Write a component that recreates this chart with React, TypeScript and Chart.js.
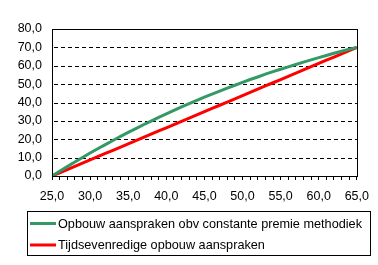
import React, { useEffect, useRef } from "react";
import { Chart, registerables } from "chart.js";

Chart.register(...registerables);

const ages: number[] = [
  25, 26, 27, 28, 29, 30, 31, 32, 33, 34, 35, 36, 37, 38, 39, 40, 41, 42, 43, 44, 45,
  46, 47, 48, 49, 50, 51, 52, 53, 54, 55, 56, 57, 58, 59, 60, 61, 62, 63, 64, 65,
];

const constantePremie: number[] = [
  0, 2.6, 5.1, 7.6, 10.1, 12.5, 14.8, 17.1, 19.3, 21.6, 23.7, 25.8, 27.9, 29.9, 31.9, 33.8,
  35.7, 37.6, 39.4, 41.2, 42.9, 44.6, 46.2, 47.8, 49.4, 51.0, 52.5, 53.9, 55.4, 56.8, 58.1,
  59.4, 60.7, 62.0, 63.2, 64.4, 65.6, 66.8, 67.9, 69.0, 70.0,
];

const tijdsevenredig: number[] = [
  0, 1.75, 3.5, 5.25, 7.0, 8.75, 10.5, 12.25, 14.0, 15.75, 17.5, 19.25, 21.0, 22.75, 24.5,
  26.25, 28.0, 29.75, 31.5, 33.25, 35.0, 36.75, 38.5, 40.25, 42.0, 43.75, 45.5, 47.25, 49.0,
  50.75, 52.5, 54.25, 56.0, 57.75, 59.5, 61.25, 63.0, 64.75, 66.5, 68.25, 70.0,
];

const seriesLabels: string[] = [
  "Opbouw aanspraken obv constante premie methodiek",
  "Tijdsevenredige opbouw aanspraken",
];

const seriesColors: string[] = ["#339966", "#FF0000"];

const FONT = "'Liberation Sans', Arial, sans-serif";

const fmt = (v: number) => v.toFixed(1).replace(".", ",");

export default function App() {
  const ref = useRef<HTMLCanvasElement | null>(null);

  useEffect(() => {
    document.body.style.margin = "0";
    const canvas = ref.current;
    if (!canvas) return;

    const dashedGrid = {
      id: "dashedGrid",
      beforeDatasetsDraw(chart: any) {
        const { ctx, chartArea } = chart;
        const y = chart.scales.y;
        ctx.save();
        ctx.strokeStyle = "#000";
        ctx.lineWidth = 1;
        ctx.setLineDash([4, 3]);
        y.ticks.forEach((t: any) => {
          const py = Math.round(y.getPixelForValue(t.value)) + 0.5;
          ctx.beginPath();
          ctx.moveTo(chartArea.left + 2, py);
          ctx.lineTo(chartArea.right, py);
          ctx.stroke();
        });
        ctx.restore();
      },
    };

    const frameAndLegend = {
      id: "frameAndLegend",
      afterDraw(chart: any) {
        const { ctx, chartArea } = chart;
        ctx.save();
        ctx.strokeStyle = "#000";
        ctx.lineWidth = 1;
        ctx.strokeRect(
          Math.round(chartArea.left) + 0.5,
          Math.round(chartArea.top) + 0.5,
          Math.round(chartArea.right - chartArea.left),
          Math.round(chartArea.bottom - chartArea.top)
        );
        // legend box
        ctx.strokeRect(27.5, 211.5, 343, 44);
        ctx.font = `12.7px ${FONT}`;
        ctx.textBaseline = "middle";
        ctx.fillStyle = "#000";
        const rows = [223.5, 245];
        chart.data.datasets.forEach((ds: any, i: number) => {
          const y = rows[i];
          ctx.strokeStyle = ds.borderColor;
          ctx.lineWidth = 3;
          ctx.beginPath();
          ctx.moveTo(30, y);
          ctx.lineTo(56, y);
          ctx.stroke();
          ctx.fillText(ds.label, 58, y + 0.5);
        });
        ctx.restore();
      },
    };

    const chart = new Chart(canvas, {
      type: "line",
      data: {
        datasets: [
          {
            label: seriesLabels[0],
            data: ages.map((a, i) => ({ x: a, y: constantePremie[i] })),
            borderColor: seriesColors[0],
            borderWidth: 3,
            pointRadius: 0,
            tension: 0,
            fill: false,
          },
          {
            label: seriesLabels[1],
            data: ages.map((a, i) => ({ x: a, y: tijdsevenredig[i] })),
            borderColor: seriesColors[1],
            borderWidth: 3,
            pointRadius: 0,
            tension: 0,
            fill: false,
          },
        ],
      },
      options: {
        animation: false,
        responsive: true,
        maintainAspectRatio: false,
        layout: { padding: { left: 0, top: 29, right: 15, bottom: 0 } },
        plugins: {
          legend: { display: false },
          tooltip: { enabled: false },
        },
        scales: {
          x: {
            type: "linear",
            min: 25,
            max: 65,
            afterFit: (scale: any) => {
              scale.height = 89;
            },
            ticks: {
              stepSize: 1,
              autoSkip: false,
              maxRotation: 0,
              color: "#000",
              padding: 9,
              font: { family: FONT, size: 12.5 },
              callback: (v: any) => (Number(v) % 5 === 0 ? fmt(Number(v)) : ""),
            },
            grid: {
              drawOnChartArea: false,
              drawTicks: true,
              tickLength: 4,
              color: "#000",
            },
            border: { color: "#000", width: 1 },
          },
          y: {
            min: 0,
            max: 80,
            afterFit: (scale: any) => {
              scale.width = 52;
            },
            ticks: {
              stepSize: 10,
              autoSkip: false,
              color: "#000",
              padding: 10,
              font: { family: FONT, size: 12.5 },
              callback: (v: any) => fmt(Number(v)),
            },
            grid: {
              display: false,
              drawTicks: false,
            },
            border: { color: "#000", width: 1 },
          },
        },
      },
      plugins: [dashedGrid, frameAndLegend],
    });

    return () => chart.destroy();
  }, []);

  return (
    <div style={{ width: 378, height: 265, position: "relative", background: "#fff" }}>
      <canvas ref={ref} />
    </div>
  );
}
